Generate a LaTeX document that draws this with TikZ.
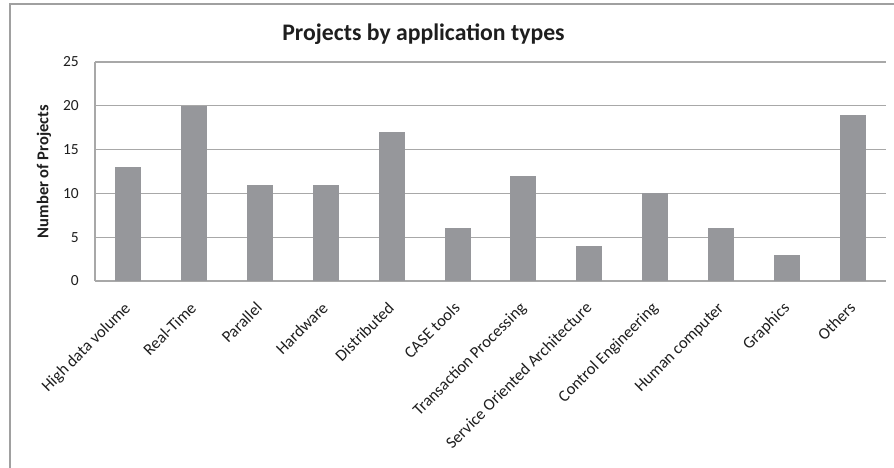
\documentclass[tikz,border=0pt]{standalone}
\usepackage{fontspec}
\setmainfont{Carlito}
\definecolor{barfill}{HTML}{96979B}
\definecolor{gridc}{HTML}{A8A8A8}
\definecolor{framec}{HTML}{A0A0A0}
\definecolor{txt}{HTML}{1E1E1E}
\begin{document}
\begin{tikzpicture}[x=0.75pt,y=-0.75pt,
  gridline/.style={draw=gridc,line width=0.9pt},
  bar/.style={fill=barfill},
  ticklab/.style={text=txt,inner sep=0pt,font=\fontsize{11.6}{13}\selectfont},
  catlab/.style={text=txt,inner sep=0pt,rotate=45,anchor=base east,font=\fontsize{12.4}{14}\selectfont},
  axtitle/.style={text=txt,inner sep=0pt,rotate=90,font=\fontsize{12.4}{14}\selectfont\bfseries},
  charttitle/.style={text=txt,inner sep=0pt,anchor=base,font=\fontsize{17.8}{20}\selectfont\bfseries}]
\useasboundingbox (0,0) rectangle (894,468);
\fill[white] (0,0) rectangle (894,468);
% outer frame
\draw[framec,line width=1.5pt] (10,470) -- (10,3.5) -- (896,3.5);
% gridlines
\foreach \v in {0,5,...,25}{
  \draw[gridline] (95,{281-8.76*\v}) -- (886,{281-8.76*\v});
  \node[ticklab,anchor=east] (y\v) at (79,{281-8.76*\v}) {\v};
}
\draw[gridline] (95,62) -- (95,281);
% bars and category labels
\foreach \v/\lab [count=\i] in {13/High data volume,20/Real-Time,11/Parallel,11/Hardware,17/Distributed,6/CASE tools,12/Transaction Processing,4/Service Oriented Architecture,10/Control Engineering,6/Human computer,3/Graphics,19/Others}{
  \pgfmathsetmacro\cx{95+65.92*(\i-0.5)}
  \fill[bar] (\cx-13,281) rectangle (\cx+13,{281-8.76*\v});
  \node[catlab] (c\i) at (\cx+3.5,309) {\lab};
}
% titles
\node[axtitle] (ytitle) at (44,171.5) {Number of Projects};
\node[charttitle] (title) at (423.5,40) {Projects by application types};
\end{tikzpicture}
\end{document}
